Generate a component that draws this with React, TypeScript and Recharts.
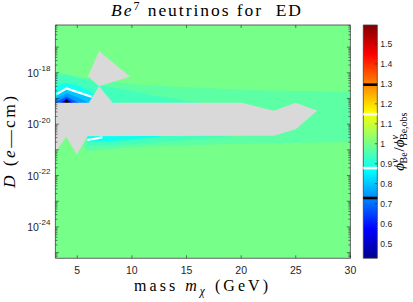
import React from 'react';
import { ComposedChart, XAxis, YAxis, Area, Line, ReferenceArea, ReferenceLine } from 'recharts';

// ---------- axes ----------
const xDomain: [number, number] = [3, 30];
const yDomain: [number, number] = [-25.22, -16.14]; // log10(D)
const cbDomain: [number, number] = [0.426, 1.595];
const xTicks = [5, 10, 15, 20, 25, 30];
const yDecades = [-26, -25, -24, -23, -22, -21, -20, -19, -18, -17];
const yLabeled = [-24, -22, -20, -18];
const minorOffsets = [0.301, 0.477, 0.602, 0.699, 0.778, 0.845, 0.903, 0.954];
const cbTicks = [0.5, 0.6, 0.7, 0.8, 0.9, 1, 1.1, 1.2, 1.3, 1.4, 1.5];
const cbBlackLevels = [0.728, 1.296];
const cbWhiteLevels = [0.878, 1.148];

const yTicks: number[] = [];
yDecades.forEach((d) => {
  [0, ...minorOffsets].forEach((o) => {
    const v = d + o;
    if (v >= yDomain[0] && v <= yDomain[1]) yTicks.push(v);
  });
});

// ---------- colours ----------
const bgColor = '#76FF89';
const grayColor = '#D9D9D9';

// full-plot background level (ratio ~1.0 everywhere outside the bands)
const background = [
  { x: xDomain[0], r: [yDomain[0], yDomain[1]] },
  { x: xDomain[1], r: [yDomain[0], yDomain[1]] },
];
const colorbarData = [
  { x: 0, r: [cbDomain[0], cbDomain[1]] },
  { x: 1, r: [cbDomain[0], cbDomain[1]] },
];

// ---------- contour bands (x: mass GeV, r: [low, high] log10 D) ----------
const bandC1 = [
  { x: 3, r: [-20.45, -17.95] },
  { x: 5.0, r: [-20.6, -18.15] },
  { x: 6, r: [-21.05, -18.2] },
  { x: 10, r: [-20.9, -18.45] },
  { x: 14.4, r: [-20.82, -18.55] },
  { x: 20.8, r: [-20.75, -18.67] },
  { x: 30, r: [-20.69, -18.75] },
];
const bandC2top = [
  { x: 3, r: [-19.25, -18.1] },
  { x: 4, r: [-19.25, -18.09] },
  { x: 6, r: [-19.25, -18.3] },
  { x: 7.08, r: [-19.25, -18.48] },
  { x: 11.66, r: [-19.25, -18.85] },
  { x: 16.2, r: [-19.25, -19.17] },
];
const bandC2bot = [
  { x: 5.92, r: [-20.85, -20.45] },
  { x: 10, r: [-20.78, -20.45] },
  { x: 15.7, r: [-20.6, -20.45] },
  { x: 19, r: [-20.47, -20.45] },
];
const bandC3bot = [
  { x: 5.92, r: [-20.66, -20.45] },
  { x: 7.3, r: [-20.68, -20.45] },
  { x: 9.8, r: [-20.6, -20.45] },
  { x: 12.6, r: [-20.48, -20.45] },
];
const bandA2 = [
  { x: 3, r: [-19.25, -18.5] },
  { x: 4.0, r: [-19.25, -18.4] },
  { x: 5.25, r: [-19.25, -18.52] },
  { x: 6.6, r: [-19.25, -18.83] },
  { x: 8.5, r: [-19.25, -19.2] },
];
const bandA3 = [
  { x: 3, r: [-19.25, -18.9] },
  { x: 4.03, r: [-19.25, -18.66] },
  { x: 6.3, r: [-19.25, -18.98] },
  { x: 6.8, r: [-19.25, -19.2] },
];
const bandA4 = [
  { x: 3, r: [-19.25, -19.02] },
  { x: 4.03, r: [-19.25, -18.8] },
  { x: 5.3, r: [-19.25, -19.0] },
  { x: 6.1, r: [-19.25, -19.2] },
];
const bandA5 = [
  { x: 3, r: [-19.25, -19.15] },
  { x: 4.03, r: [-19.25, -18.92] },
  { x: 5.2, r: [-19.25, -19.2] },
];
const bandA6 = [
  { x: 3.4, r: [-19.25, -19.2] },
  { x: 4.03, r: [-19.25, -19.0] },
  { x: 4.7, r: [-19.25, -19.2] },
];
const bandBlack = [
  { x: 3.8, r: [-19.25, -19.17] },
  { x: 4.03, r: [-19.25, -19.03] },
  { x: 4.3, r: [-19.25, -19.17] },
];
const whiteTop = [
  { x: 3.12, y: -18.83 },
  { x: 4.03, y: -18.61 },
  { x: 6.3, y: -18.93 },
];
const whiteBot = [
  { x: 5.92, y: -20.62 },
  { x: 6.6, y: -20.57 },
  { x: 7.3, y: -20.51 },
];

// ---------- excluded (gray) region ----------
const grayKite = [
  { x: 5.98, r: [-18.13, -18.13] },
  { x: 7.0, r: [-18.52, -17.15] },
  { x: 9.83, r: [-18.15, -18.15] },
];
const grayNeck = [
  { x: 6.12, r: [-19.25, -19.13] },
  { x: 7.0, r: [-19.25, -18.52] },
  { x: 8.18, r: [-19.25, -19.14] },
];
const grayBand = [
  { x: 3, r: [-20.47, -19.17] },
  { x: 20.04, r: [-20.45, -19.17] },
  { x: 23.0, r: [-20.45, -19.48] },
  { x: 24.99, r: [-20.2, -19.17] },
  { x: 26.96, r: [-19.48, -19.48] },
];
const grayLower = [
  { x: 3, r: [-21.09, -20.46] },
  { x: 4.0, r: [-20.49, -20.46] },
  { x: 4.95, r: [-21.18, -20.46] },
  { x: 5.92, r: [-20.5, -20.46] },
];

const areas: { data: { x: number; r: number[] }[]; fill: string }[] = [
  { data: bandC1, fill: '#5CFFA3' },
  { data: bandC2top, fill: '#44FFBB' },
  { data: bandC2bot, fill: '#44FFBB' },
  { data: bandC3bot, fill: '#0CFFF0' },
  { data: bandA2, fill: '#10FFEF' },
  { data: bandA3, fill: '#00C8FF' },
  { data: bandA4, fill: '#009CFF' },
  { data: bandA5, fill: '#0058FF' },
  { data: bandA6, fill: '#0010E0' },
  { data: bandBlack, fill: '#000000' },
  { data: grayKite, fill: grayColor },
  { data: grayNeck, fill: grayColor },
  { data: grayBand, fill: grayColor },
  { data: grayLower, fill: grayColor },
];

const axisColor = '#262626';
const sans = 'Liberation Sans, Arial, Helvetica, sans-serif';
const serif = 'Liberation Serif, Times New Roman, serif';

const isMajor = (v: number) => Math.abs(v - Math.round(v)) < 1e-6;

function LeftTick(props: any) {
  const { x, y, payload } = props;
  const v = payload.value;
  const major = isMajor(v);
  const n = Math.round(v);
  const labeled = major && yLabeled.includes(n);
  return (
    <g>
      <line x1={x} x2={x + (major ? 3.5 : 2)} y1={y} y2={y} stroke={axisColor} strokeWidth={0.6} />
      {labeled && (
        <text x={x - 5} y={y + 4} textAnchor="end" fontFamily={sans} fontSize={10.5} fill={axisColor}>
          10<tspan dy={-5.5} fontSize={8}>{String(n)}</tspan>
        </text>
      )}
    </g>
  );
}
function RightTick(props: any) {
  const { x, y, payload } = props;
  const major = isMajor(payload.value);
  return <line x1={x - (major ? 3.5 : 2)} x2={x} y1={y} y2={y} stroke={axisColor} strokeWidth={0.6} />;
}
function BottomTick(props: any) {
  const { x, y, payload } = props;
  return (
    <g>
      <line x1={x} x2={x} y1={y} y2={y - 3} stroke={axisColor} strokeWidth={0.6} />
      <text x={x} y={y + 15.8} textAnchor="middle" fontFamily={sans} fontSize={10.5} fill={axisColor}>
        {String(payload.value)}
      </text>
    </g>
  );
}
function TopTick(props: any) {
  const { x, y } = props;
  return <line x1={x} x2={x} y1={y} y2={y + 3} stroke={axisColor} strokeWidth={0.6} />;
}
function CbTick(props: any) {
  const { x, y, payload } = props;
  return (
    <g>
      <line x1={x - 2.5} x2={x} y1={y} y2={y} stroke={axisColor} strokeWidth={0.6} />
      <text x={x + 3} y={y + 3} textAnchor="start" fontFamily={sans} fontSize={8.6} fill={axisColor}>
        {String(payload.value)}
      </text>
    </g>
  );
}

export default function App() {
  return (
    <div style={{ position: 'absolute', left: 0, top: 0, width: 413, height: 302, background: '#fff', overflow: 'hidden' }}>
      <svg width={0} height={0} style={{ position: 'absolute' }}>
        <defs>
          <linearGradient id="jetGrad" x1="0" y1="1" x2="0" y2="0">
            <stop offset="0" stopColor="#00008F" />
            <stop offset="0.125" stopColor="#0000FF" />
            <stop offset="0.375" stopColor="#00FFFF" />
            <stop offset="0.625" stopColor="#FFFF00" />
            <stop offset="0.875" stopColor="#FF0000" />
            <stop offset="1" stopColor="#800000" />
          </linearGradient>
        </defs>
      </svg>
      <div style={{ position: 'absolute', left: 0, top: 0 }}>
        <ComposedChart width={413} height={302} data={background} margin={{ top: 24, right: 61.6, bottom: 42.7, left: 54.4 }}>
          <Area dataKey="r" type="linear" stroke="none" fill={bgColor} fillOpacity={1} dot={false} activeDot={false} isAnimationActive={false} />
          {areas.map((a, i) => (
            <Area
              key={i}
              data={a.data}
              dataKey="r"
              type="linear"
              stroke="none"
              fill={a.fill}
              fillOpacity={1}
              dot={false}
              activeDot={false}
              isAnimationActive={false}
            />
          ))}
          <Line data={whiteTop} dataKey="y" type="linear" stroke="#FFFFFF" strokeWidth={2} dot={false} activeDot={false} isAnimationActive={false} />
          <Line data={whiteBot} dataKey="y" type="linear" stroke="#FFFFFF" strokeWidth={2} dot={false} activeDot={false} isAnimationActive={false} />
          <ReferenceArea x1={xDomain[0]} x2={xDomain[1]} y1={yDomain[0]} y2={yDomain[1]} fill="none" stroke="#404040" strokeWidth={0.8} />
          <XAxis dataKey="x" type="number" domain={xDomain} ticks={xTicks} allowDataOverflow height={1} axisLine={false} tickLine={false} tickSize={0} tickMargin={0} interval={0} tick={(p: any) => <BottomTick {...p} />} />
          <XAxis xAxisId="top" orientation="top" dataKey="x" type="number" domain={xDomain} ticks={xTicks.slice(0, -1)} allowDataOverflow height={1} axisLine={false} tickLine={false} tickSize={0} tickMargin={0} interval={0} tick={(p: any) => <TopTick {...p} />} />
          <YAxis type="number" domain={yDomain} ticks={yTicks} allowDataOverflow width={1} axisLine={false} tickLine={false} tickSize={0} tickMargin={0} interval={0} tick={(p: any) => <LeftTick {...p} />} />
          <YAxis yAxisId="right" orientation="right" type="number" domain={yDomain} ticks={yTicks} allowDataOverflow width={1} axisLine={false} tickLine={false} tickSize={0} tickMargin={0} interval={0} tick={(p: any) => <RightTick {...p} />} />
        </ComposedChart>
      </div>
      <div style={{ position: 'absolute', left: 0, top: 0 }}>
        <ComposedChart width={413} height={302} data={colorbarData} margin={{ top: 25, right: 34.7, bottom: 43.7, left: 363.3 }}>
          <Area dataKey="r" type="linear" stroke="none" fill="url(#jetGrad)" fillOpacity={1} dot={false} activeDot={false} isAnimationActive={false} />
          {cbBlackLevels.map((v) => (
            <ReferenceLine key={'b' + v} y={v} stroke="#000000" strokeWidth={2.6} />
          ))}
          {cbWhiteLevels.map((v) => (
            <ReferenceLine key={'w' + v} y={v} stroke="#FFFFFF" strokeWidth={2.6} />
          ))}
          <ReferenceArea x1={0} x2={1} y1={cbDomain[0]} y2={cbDomain[1]} fill="none" stroke="#404040" strokeWidth={0.8} />
          <XAxis dataKey="x" type="number" domain={[0, 1]} hide />
          <YAxis orientation="right" type="number" domain={cbDomain} ticks={cbTicks} allowDataOverflow width={1} axisLine={false} tickLine={false} tickSize={0} tickMargin={0} interval={0} tick={(p: any) => <CbTick {...p} />} />
        </ComposedChart>
      </div>
      <svg width={413} height={302} style={{ position: 'absolute', left: 0, top: 0, pointerEvents: 'none' }}>
        <text x={206} y={16} textAnchor="middle" fontFamily={serif} fontSize={17.5} fill="#000" textLength={190} lengthAdjust="spacing" style={{ whiteSpace: 'pre' }}>
          <tspan fontStyle="italic">Be</tspan>
          <tspan dy={-6.5} fontSize={12}>7</tspan>
          <tspan dy={6.5}> neutrinos for  ED</tspan>
        </text>
        <text x={201} y={291} textAnchor="middle" fontFamily={serif} fontSize={16} fill="#000" textLength={134} lengthAdjust="spacing" style={{ whiteSpace: 'pre' }}>
          mass <tspan fontStyle="italic">m</tspan>
          <tspan dy={3.5} fontSize={11.5} fontStyle="italic">χ</tspan>
          <tspan dy={-3.5}> (GeV)</tspan>
        </text>
        <text transform="translate(15,142) rotate(-90)" x={0} y={0} textAnchor="middle" fontFamily={serif} fontSize={17.5} fill="#000" textLength={92} lengthAdjust="spacing" style={{ whiteSpace: 'pre' }}>
          <tspan fontStyle="italic">D</tspan> (<tspan fontStyle="italic">e</tspan>—cm)
        </text>
        <text transform="translate(403.5,141.6) rotate(-90)" x={0} y={0} textAnchor="middle" fontFamily={serif} fontSize={15} fill="#000">
          <tspan fontStyle="italic">ϕ</tspan>
          <tspan fontSize={10} dy={-5.5} fontStyle="italic">ν</tspan>
          <tspan fontSize={10} dx={-5} dy={9}>Be</tspan>
          <tspan dy={-3.5} dx={1}>/</tspan>
          <tspan fontStyle="italic">ϕ</tspan>
          <tspan fontSize={10} dy={-5.5} fontStyle="italic">ν</tspan>
          <tspan fontSize={10} dx={-5} dy={9}>Be,obs</tspan>
        </text>
      </svg>
    </div>
  );
}
